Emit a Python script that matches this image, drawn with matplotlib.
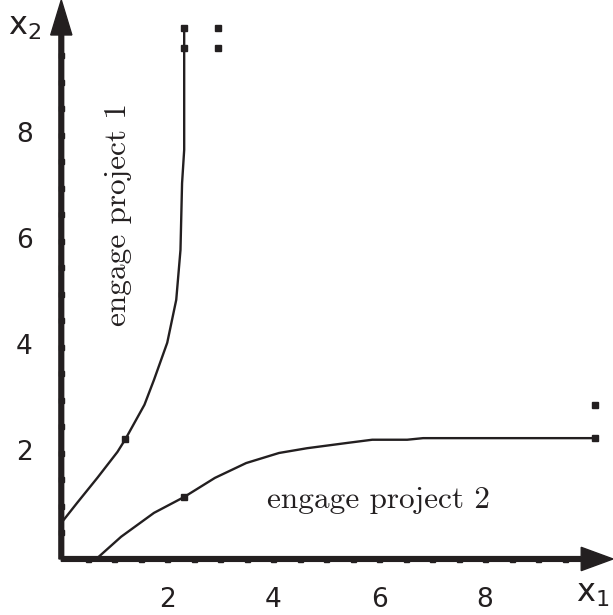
import numpy as np
import matplotlib
matplotlib.use("Agg")
import matplotlib.pyplot as plt

# boundary of region where project 1 is engaged
p1_x = [0.0, 0.30, 0.68, 1.06, 1.21, 1.57, 1.75, 2.00, 2.17, 2.25, 2.28, 2.32, 2.32]
p1_y = [0.68, 1.06, 1.53, 2.02, 2.26, 2.91, 3.38, 4.08, 4.89, 5.83, 7.09, 7.72, 10.02]

# boundary of region where project 2 is engaged
p2_x = [0.66, 1.13, 1.75, 2.32, 2.90, 3.49, 4.11, 4.64, 5.40, 5.87, 6.53, 6.83, 10.07]
p2_y = [0.0, 0.42, 0.87, 1.17, 1.53, 1.81, 2.00, 2.09, 2.19, 2.25, 2.25, 2.28, 2.28]

# square markers on the curves and the ":" continuation dots
mark_x = [1.21, 2.32, 2.32, 2.96, 2.96, 2.32, 10.07, 10.07]
mark_y = [2.26, 10.02, 9.64, 10.02, 9.64, 1.17, 2.28, 2.91]

tick_pos = np.arange(0.5, 10.0, 0.5)
tick_labels = [2, 4, 6, 8]

fig = plt.figure(figsize=(6.13, 6.15), dpi=100)
ax = fig.add_axes([0, 0, 1, 1])
ax.set_xlim(-1.157, 10.415)
ax.set_ylim(-1.057, 10.547)
ax.axis('off')

# axes as arrows
ax.arrow(0, 0, 10.415, 0, width=0.09, head_width=0.44, head_length=0.6,
         length_includes_head=True, color='#231f20', zorder=3)
ax.arrow(0, 0, 0, 10.547, width=0.09, head_width=0.40, head_length=0.66,
         length_includes_head=True, color='#231f20', zorder=3)

# tick dots
ax.plot(tick_pos, np.zeros_like(tick_pos), 's', ms=3.6, color='#231f20', zorder=4)
ax.plot(np.zeros_like(tick_pos), tick_pos, 's', ms=3.6, color='#231f20', zorder=4)

for t in tick_labels:
    ax.text(t, -0.78, str(t), ha='center', va='center', fontsize=19, color='#231f20')
    ax.text(-0.7, t, str(t), ha='center', va='center', fontsize=19, color='#231f20')

ax.text(9.72, -0.66, r'$\mathregular{x_1}$', ha='left', va='center', fontsize=23, color='#231f20')
ax.text(-1.0, 10.05, r'$\mathregular{x_2}$', ha='left', va='center', fontsize=23, color='#231f20')

ax.plot(p1_x, p1_y, color='#231f20', lw=1.7)
ax.plot(p2_x, p2_y, color='#231f20', lw=1.7)
ax.plot(mark_x, mark_y, 's', ms=4, color='#231f20')

ax.text(1.07, 6.5, 'engage project 1', rotation=90, ha='center', va='center',
        fontsize=22.5, family='cmr10', color='#231f20')
ax.text(5.98, 1.12, 'engage project 2', ha='center', va='center',
        fontsize=22.5, family='cmr10', color='#231f20')

fig.savefig('out.png', dpi=100)
